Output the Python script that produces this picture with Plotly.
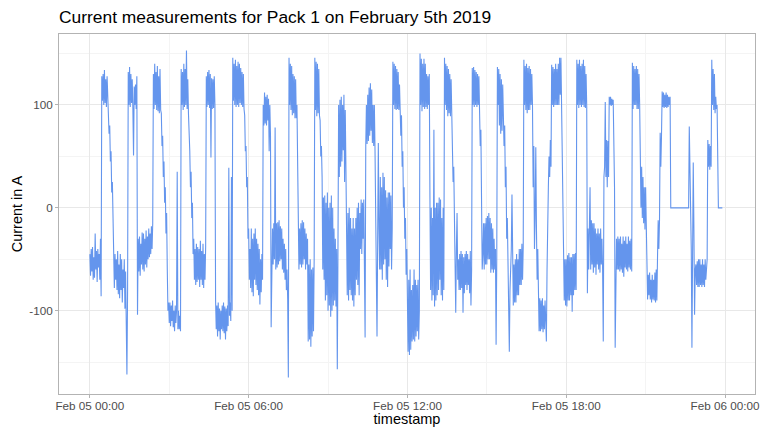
import pandas as pd
import plotly.graph_objects as go

# Pack 1 current log, one reading every 90 seconds from midnight
start_time = "2019-02-05 00:00"
sample_step = "90s"

current_a = [
    # 00:00 - 00:30
    -45, -66, -40, -62, -38, -70, -48, -68, -25, -60, -42, -72, -40, -58, -45, -70, -30, -86, 128, 104,
    130, 100, 134, 102, 125, 98, 128, 100, 96, 72, 80, 45, 55, 15, 25, -10, -48, -78, -45, -70,
    # 01:00
    -50, -80, -42, -84, -55, -88, -45, -80, -50, -92, -60, -78, -50, -98, -62, -95, -162, -80, 132, 100,
    137, 98, 130, 102, 125, 96, 51, 118, 100, 120, 96, 128, -104, -30, -62, -28, -66, -35, -55, -24,
    # 02:00
    -60, -25, -62, -30, -55, -22, -58, -28, -50, -20, -48, -25, -45, -18, -40, -15, 130, 96, 140, 100,
    132, 95, 138, 94, 128, 92, 135, 95, 92, 60, 70, 30, 45, 5, 20, -25, -5, -60, -100, -92,
    # 03:00
    -112, -92, -115, -95, -110, -90, -116, -100, -120, -95, -112, -100, 35, -118, -100, -118, -105, -120, 135, 100,
    132, 95, 140, 98, 135, 100, 153, 96, 125, 92, 80, 55, 20, 35, -10, 5, -45, -30, -70, -40,
    # 04:00
    -75, -35, -72, -38, -70, -40, -77, -32, -70, -42, -75, -35, -78, -45, -70, -38, 128, 98, 132, 100,
    134, 97, 130, 49, 126, 96, 125, 97, 128, 100, -90, -118, -95, -125, -92, -120, -98, -128, -100, -118,
    # 05:00
    -95, -120, -92, -122, -96, -128, -98, -120, -95, -115, 39, -105, -92, -110, 30, -100, 146, 104, 140, 100,
    144, 98, 138, 100, 142, 98, 140, 102, 136, 100, 132, 98, 130, 96, 90, 55, 60, 20, 30, -30,
    # 06:00
    -20, -70, -40, -78, -20, -82, -30, -86, -25, -70, -20, -75, -30, -80, -35, -85, -40, -94, -50, -82,
    -45, -70, 100, 80, 112, 82, 108, 80, 110, 85, 106, 55, 100, 70, -116, -40, -20, -55, -15, -50,
    # 07:00
    78, -60, -15, -58, -14, -55, -12, -52, -18, -50, -20, -60, -30, -63, -35, -70, -40, -80, -60, -89,
    -165, 146, 100, 140, 95, 138, 90, 130, 92, 128, 87, 125, 87, 100, 40, 11, -60, -20, -55, -15,
    # 08:00
    -58, -12, -55, -14, -50, -20, -60, -25, -55, -30, -130, -55, -128, -50, -135, -60, -125, -58, -120, -50,
    146, 95, 142, 89, 140, 92, 135, 90, 85, 50, 60, 30, -60, 10, -70, 12, -90, 5, -85, 15,
    # 09:00
    -100, 0, -95, 5, -106, 12, -100, 0, -95, -20, -90, -30, -96, -40, -157, -40, 100, 30, 105, 40,
    108, 45, 100, 56, 110, 25, 95, 40, -10, -85, -5, -90, 0, -80, -10, -85, -20, -90, -10, -96,
    # 10:00
    -20, -85, -10, -70, 0, -75, 5, -85, -5, -40, 8, -45, 5, -30, 8, -40, -126, 60, 100, 62,
    110, 65, 117, 70, 121, 75, 115, 63, 100, 60, 100, 56, -40, -90, -125, -31, 63, -20, -60, 30,
    # 11:00
    -60, 20, -70, 34, -55, 30, -50, 17, -70, 10, -77, 15, -57, 15, -40, 12, -60, -20, 142, 100,
    140, 96, 138, 95, 135, 96, 132, 95, 120, 95, 70, 90, 40, 55, 0, 20, -30, -10, -65, -40,
    # 12:00
    -90, -140, -70, -143, -60, -138, -80, -130, -75, -128, -60, -130, -70, -125, -75, -120, -70, -128, -100, 150,
    100, 145, 94, 140, 98, 145, 96, 140, 98, 130, 96, 128, 100, 130, 10, -80, 0, -90, -10, -85,
    # 13:00
    76, -96, 0, -90, 5, -85, 5, -80, 10, -70, 8, -85, -10, -90, 0, -80, 146, 100, 140, 95,
    138, 89, 135, 92, 130, 89, 125, 90, 60, 25, 40, -10, -60, -102, -40, -5, -70, -50, -80, -45,
    # 14:00
    -80, -42, -78, -45, -102, -48, -83, -45, -75, -42, -80, -45, -75, -50, -83, -42, -95, -60, 136, 100,
    137, 98, 134, 100, 132, 98, 130, 100, 128, 98, 60, 76, -10, -60, -45, -15, -60, -15, -55, -10,
    # 15:00
    -55, -8, -50, -5, -50, -10, -63, -15, -60, -20, -63, -30, -60, -40, -133, -50, 137, 100, 135, 80,
    130, 72, 125, 75, 120, 70, 60, 80, 20, 40, -30, -10, -45, -90, -140, -80, -60, -40, 13, -50,
    # 16:00
    -95, -55, -92, -50, -92, -45, -85, -50, -85, -40, -75, -40, -75, -35, -70, -38, 144, 100, 138, 95,
    140, 92, 136, 95, 138, 95, 135, 100, 130, 100, 20, 60, -40, -10, 59, -20, -70, -40, -86, -120,
    # 17:00
    -88, -120, -90, -118, -88, -121, -95, -118, -90, -121, -130, -60, 5, 20, 50, 30, 66, 40, 139, 100,
    137, 98, 135, 100, 140, 100, 135, 100, 140, 100, 146, 110, 146, 100, 56, -20, -60, -90, -50, -95,
    # 18:00
    -50, -96, -46, -90, -44, -90, -48, -85, -48, -101, -45, -85, -45, -80, -44, -80, 144, 100, 140, 97,
    144, 100, 138, 98, 140, 100, 144, 98, 138, 97, 130, 98, -83, -20, -60, -15, 20, -60, -12, -55,
    # 19:00
    -15, -63, -15, -58, -20, -65, -25, -55, -20, -60, -25, -63, -20, -55, -30, -60, -130, 30, 40, 103,
    30, 66, 20, 65, 30, 108, 100, 108, 99, 106, 100, 105, 60, 20, -136, -50, -30, -60, -28, -60,
    # 20:00
    -30, -62, -28, -60, -35, -63, -28, -67, -32, -58, -28, -60, -35, -62, -28, -58, -32, -60, -30, -62,
    141, 96, 138, 100, 135, 100, 138, 96, 135, 96, 130, 100, 44, 0, 40, -10, 30, -15, 20, -21,
    # 21:00
    20, -10, -63, -89, -65, -85, -63, -89, -70, -92, -65, -89, -70, -90, -63, -92, -60, -90, -48, -12,
    -40, -12, 73, 40, 70, 113, 98, 112, 97, 110, 98, 112, 97, 110, 98, 108, 100, 108, 0, 0,
    # 22:00
    0, 0, 0, 0, 0, 0, 0, 0, 0, 0, 0, 0, 0, 0, 0, 0, 0, 0, 0, 0,
    0, 0, 0, 0, 0, 0, 79, 40, 10, -40, -136, 0, 44, -20, -104, -60, -55, -75, -52, -77,
    # 23:00
    -50, -77, -50, -75, -55, -77, -50, -75, -55, -77, -50, -70, -55, -50, 66, 40, 62, 37, 60, 40,
    144, 100, 135, 95, 130, 92, 108, 96, 100, 0, 0, 0, 0, 0, 0, 0, 0,
]

timestamps = pd.date_range(start=start_time, periods=len(current_a), freq=sample_step)

y_ticks = [-100, 0, 100]
y_tick_labels = ["-100", "0", "100"]
x_ticks = ["2019-02-05 00:00", "2019-02-05 06:00", "2019-02-05 12:00",
           "2019-02-05 18:00", "2019-02-06 00:00"]
x_tick_labels = ["Feb 05 00:00", "Feb 05 06:00", "Feb 05 12:00",
                 "Feb 05 18:00", "Feb 06 00:00"]

border = "#b3b3b3"
grid_major = "#e8e8e8"
grid_minor = "#f4f4f4"
font_family = "Liberation Sans, Arial, sans-serif"
tick_font = dict(family=font_family, size=11.7, color="#4d4d4d")
title_font = dict(family=font_family, size=14.5, color="#000000")

fig = go.Figure(
    go.Scatter(
        x=timestamps,
        y=current_a,
        mode="lines",
        line=dict(color="#6495ED", width=1.1),
        hoverinfo="x+y",
    )
)

fig.update_layout(
    width=763,
    height=427,
    margin=dict(l=59, r=8, t=34, b=33),
    paper_bgcolor="white",
    plot_bgcolor="white",
    showlegend=False,
    title=dict(
        text="Current measurements for Pack 1 on February 5th 2019",
        x=59 / 763,
        xanchor="left",
        y=1 - 17 / 427,
        yanchor="middle",
        font=dict(family=font_family, size=17.4, color="#000000"),
    ),
    xaxis=dict(
        range=["2019-02-04 22:50", "2019-02-06 01:08"],
        automargin=False,
        tickmode="array",
        tickvals=x_ticks,
        ticktext=x_tick_labels,
        ticks="outside",
        ticklen=3,
        tickcolor=border,
        tickfont=tick_font,
        ticklabelstandoff=-2,
        showline=True,
        linecolor=border,
        linewidth=1,
        mirror=True,
        showgrid=True,
        gridcolor=grid_major,
        gridwidth=1,
        zeroline=False,
        minor=dict(tickmode="linear", tick0="2019-02-05 03:00", dtick=6 * 3600 * 1000,
                   showgrid=True, gridcolor=grid_minor, gridwidth=1, ticks=""),
        title=dict(text="timestamp", font=title_font, standoff=4),
    ),
    yaxis=dict(
        range=[-181, 169],
        automargin=False,
        tickmode="array",
        tickvals=y_ticks,
        ticktext=y_tick_labels,
        ticks="outside",
        ticklen=3,
        tickcolor=border,
        tickfont=tick_font,
        showline=True,
        linecolor=border,
        linewidth=1,
        mirror=True,
        showgrid=True,
        gridcolor=grid_major,
        gridwidth=1,
        zeroline=False,
        minor=dict(tickmode="linear", tick0=-150, dtick=100,
                   showgrid=True, gridcolor=grid_minor, gridwidth=1, ticks=""),
        title=dict(text="Current in A", font=title_font, standoff=3),
    ),
)

fig.write_html("out.html")
